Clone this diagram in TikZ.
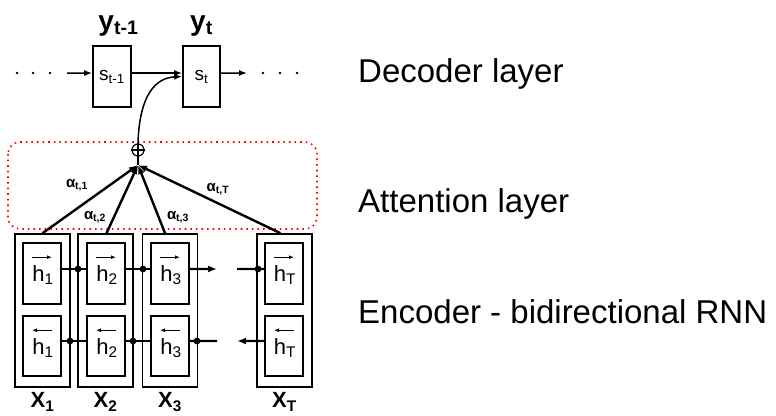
\documentclass[tikz,border=0pt]{standalone}
\usepackage{fontspec}
\setmainfont{Liberation Sans}
\usetikzlibrary{arrows.meta,calc}
\begin{document}
\begin{tikzpicture}[x=1bp,y=-1bp,
  sbox/.style={draw, line width=1.6bp, minimum width=38bp, minimum height=61bp, inner sep=0pt, font=\fontsize{19bp}{22bp}\selectfont},
  obox/.style={draw, line width=1.6bp, minimum width=55bp, minimum height=153bp, inner sep=0pt},
  ibox/.style={draw, line width=1.6bp, minimum width=38bp, minimum height=60bp, inner sep=0pt},
  thinarr/.style={line width=1.5bp, -{Latex[length=8bp,width=6bp]}},
  encline/.style={line width=2.4bp},
  encarr/.style={line width=2.4bp, -{Latex[length=9bp,width=7bp]}},
  attline/.style={line width=2.4bp, -{Latex[length=9bp,width=7bp]}},
  harrow/.style={line width=1.3bp, -{Latex[length=5bp,width=4bp]}},
  dotn/.style={circle, fill, inner sep=0pt, minimum size=2.8bp},
  layertxt/.style={anchor=base west, inner sep=0pt, font=\fontsize{33bp}{40bp}\selectfont},
  ylab/.style={anchor=base, inner sep=0pt, font=\fontsize{28bp}{30bp}\selectfont\bfseries},
  hlab/.style={anchor=base, inner sep=0pt, font=\fontsize{22bp}{24bp}\selectfont},
  xlab/.style={anchor=base, inner sep=0pt, font=\fontsize{22bp}{24bp}\selectfont\bfseries},
  alab/.style={inner sep=0pt, font=\fontsize{15bp}{17bp}\selectfont\bfseries}
]
\useasboundingbox (0,0) rectangle (776,415);

% ---------------- Decoder ----------------
\node[sbox] (s1) at (112,76.5) {s\textsubscript{t-1}};
\node[sbox, minimum width=37bp] (s2) at (201.5,76.5) {s\textsubscript{t}};
\node[ylab] (y1) at (118.5,30) {y\textsubscript{t-1}};
\node[ylab] (y2) at (201.5,30) {y\textsubscript{t}};
\foreach \x [count=\i] in {17,33,50} \node[dotn] (dl\i) at (\x,73) {};
\foreach \x [count=\i] in {263,280,297} \node[dotn] (dr\i) at (\x,73) {};
\coordinate (lin) at (67,73);
\coordinate (rout) at (247,73);
\draw[thinarr] (lin) -- ([yshift=3.5bp]s1.west);
\draw[thinarr] ([yshift=3.5bp]s1.east) -- ([yshift=3.5bp]s2.west);
\draw[thinarr] ([yshift=3.5bp]s2.east) -- (rout);

% ---------------- Attention ----------------
\draw[red, line width=1.6bp, dash pattern=on 1.6bp off 4bp, rounded corners=12bp] (8,142) rectangle (317,229);
\node[circle, draw, line width=1.2bp, minimum size=12bp, inner sep=0pt, fill=white] (pl) at (138,150) {};
\draw[line width=1.2bp] (pl.west) -- (pl.east);
\draw[line width=1.2bp] (pl.north) -- (pl.south);
\coordinate (jn) at (138,165);
\draw[line width=1.8bp] (jn) -- (pl.south);
\draw[thinarr] (pl.north) .. controls (139,105) and (150,78) .. (s2.west);

% ---------------- Encoder ----------------
\foreach \n/\x in {1/42.5, 2/105.5, 3/170, T/284.5}
  \node[obox] (o\n) at (\x,310.5) {};
\foreach \n/\x in {1/42, 2/106, 3/170, T/284} {
  \node[ibox, minimum height=61bp] (f\n) at (\x,273.5) {};
  \node[ibox] (b\n) at (\x,346) {};
  \node[hlab] (hf\n) at ($(f\n.north)+(1,39)$) {h\textsubscript{\n}};
  \node[hlab] (hb\n) at ($(b\n.north)+(1,39)$) {h\textsubscript{\n}};
  \draw[harrow] ($(f\n.north)+(-10,15)$) -- ++(20,0);
  \draw[harrow] ($(b\n.north)+(10,15)$) -- ++(-20,0);
  \node[xlab] (x\n) at ($(o\n.south)+(0,20)$) {X\textsubscript{\n}};
}

% attention lines
\draw[attline] (o1.north) -- (jn);
\draw[attline] ([xshift=1bp]o2.north) -- (jn);
\draw[attline] ([xshift=-5bp]o3.north) -- (jn);
\draw[attline] ([xshift=-4bp]oT.north) -- (jn);
\node[alab] (a1) at (77,185) {α\textsubscript{t,1}};
\node[alab] (a2) at (95,217) {α\textsubscript{t,2}};
\node[alab] (a3) at (178,217) {α\textsubscript{t,3}};
\node[alab] (aT) at (218,189) {α\textsubscript{t,T}};

% forward connections
\coordinate (fe) at (217,269);
\coordinate (fs) at (237,269);
\draw[encline] ([yshift=4.5bp]f1.east) -- ([yshift=4.5bp]f2.west);
\draw[encline] ([yshift=4.5bp]f2.east) -- ([yshift=4.5bp]f3.west);
\draw[encarr] ([yshift=4.5bp]f3.east) -- (fe);
\draw[encline] (fs) -- ([yshift=4.5bp]fT.west);
\fill (78,269) circle (3.4bp);
\fill (143,269) circle (3.4bp);
\fill (258,269) circle (3.4bp);

% backward connections
\coordinate (bs) at (217,341);
\coordinate (be) at (237,341);
\draw[encline] ([yshift=5bp]b2.west) -- ([yshift=5bp]b1.east);
\draw[encline] ([yshift=5bp]b3.west) -- ([yshift=5bp]b2.east);
\draw[encline] (bs) -- ([yshift=5bp]b3.east);
\draw[encarr] ([yshift=5bp]bT.west) -- (be);
\fill (70,341) circle (3.4bp);
\fill (133,341) circle (3.4bp);
\fill (197,341) circle (3.4bp);

% ---------------- Layer labels ----------------
\node[layertxt] (dec) at (358,82) {Decoder layer};
\node[layertxt] (att) at (358,212) {Attention layer};
\node[layertxt] (enc) at (358,323) {Encoder - bidirectional RNN};
\end{tikzpicture}
\end{document}
